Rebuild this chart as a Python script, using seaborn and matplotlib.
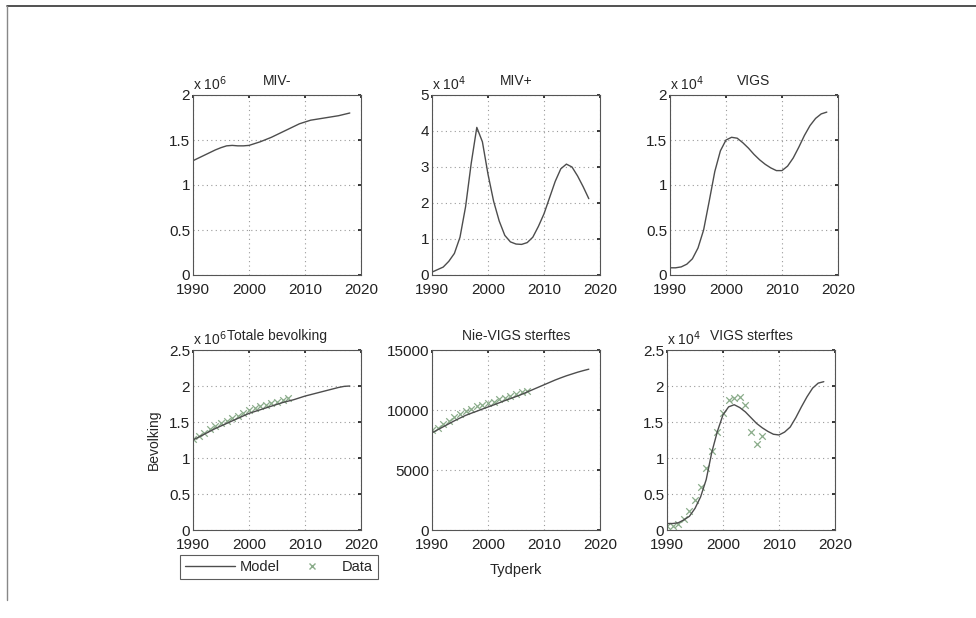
import numpy as np
import pandas as pd
import matplotlib
matplotlib.use('Agg')
import matplotlib.pyplot as plt
from matplotlib.lines import Line2D
import seaborn as sns

# model years and data years
jare = list(range(1990, 2019))
data_jare = list(range(1990, 2008))

# model output (in the units shown on each axis)
miv_neg = [1.27, 1.30, 1.33, 1.36, 1.39, 1.415, 1.435, 1.44, 1.435, 1.435,
           1.44, 1.46, 1.48, 1.505, 1.53, 1.56, 1.59, 1.62, 1.65, 1.68,
           1.70, 1.72, 1.73, 1.74, 1.75, 1.76, 1.77, 1.785, 1.80]          # x 10^6
miv_pos = [0.08, 0.15, 0.22, 0.38, 0.60, 1.05, 1.90, 3.10, 4.10, 3.70,
           2.80, 2.05, 1.50, 1.10, 0.92, 0.86, 0.85, 0.90, 1.05, 1.35,
           1.70, 2.15, 2.60, 2.95, 3.08, 3.00, 2.75, 2.45, 2.12]           # x 10^4
vigs = [0.08, 0.08, 0.09, 0.12, 0.18, 0.30, 0.50, 0.82, 1.15, 1.38,
        1.50, 1.53, 1.52, 1.47, 1.41, 1.34, 1.28, 1.23, 1.19, 1.16,
        1.16, 1.21, 1.30, 1.42, 1.55, 1.66, 1.74, 1.79, 1.81]               # x 10^4
totaal = [1.25, 1.29, 1.33, 1.37, 1.41, 1.445, 1.48, 1.515, 1.55, 1.585,
          1.62, 1.645, 1.67, 1.695, 1.72, 1.745, 1.77, 1.79, 1.81, 1.835,
          1.86, 1.88, 1.90, 1.92, 1.94, 1.96, 1.98, 1.995, 2.00]           # x 10^6
nie_vigs_sterf = [8100, 8350, 8600, 8850, 9100, 9330, 9550, 9730, 9900, 10080,
                  10250, 10420, 10600, 10780, 10950, 11120, 11300, 11500, 11700, 11900,
                  12100, 12300, 12500, 12680, 12850, 13000, 13150, 13280, 13400]
vigs_sterf = [0.09, 0.09, 0.10, 0.14, 0.19, 0.30, 0.46, 0.70, 1.08, 1.37,
              1.60, 1.71, 1.74, 1.70, 1.64, 1.56, 1.48, 1.42, 1.37, 1.33,
              1.32, 1.36, 1.43, 1.56, 1.71, 1.85, 1.97, 2.04, 2.06]        # x 10^4

# observed data
totaal_data = [1.27, 1.31, 1.35, 1.40, 1.44, 1.48, 1.52, 1.56, 1.59, 1.63,
               1.66, 1.69, 1.72, 1.74, 1.76, 1.78, 1.80, 1.83]
nie_vigs_data = [8300, 8500, 8800, 9100, 9400, 9700, 9900, 10100, 10300, 10400,
                 10600, 10700, 10900, 11000, 11200, 11300, 11500, 11600]
vigs_sterf_data = [0.05, 0.06, 0.08, 0.15, 0.27, 0.42, 0.60, 0.86, 1.10, 1.36,
                   1.62, 1.80, 1.84, 1.85, 1.74, 1.36, 1.19, 1.30]

sns.set_theme(style='white')
plt.rcParams['font.family'] = ['Liberation Sans', 'DejaVu Sans']

LINE = '#4d4d4d'
DOT = '#8aac8a'

fig = plt.figure(figsize=(9.76, 6.18), dpi=100)
fig.patch.set_facecolor('white')

# scanned page frame
fig.add_artist(Line2D([7/976, 1], [1-6/618, 1-6/618], color='#333', lw=1.2))
fig.add_artist(Line2D([7/976, 7/976], [1-6/618, 1-600/618], color='#888', lw=1.0))

pos = {
    (0, 0): [193, 95], (0, 1): [432, 95], (0, 2): [670, 95],
    (1, 0): [193, 350], (1, 1): [432, 350], (1, 2): [667, 350],
}
W, H = 168, 180


def make_ax(r, c):
    x0, y0 = pos[(r, c)]
    ax = fig.add_axes([x0/976, 1-(y0+H)/618, W/976, H/618])
    return ax


panels = [
    ((0, 0), 'MIV-', miv_neg, None, 2, [0, 0.5, 1, 1.5, 2], '6'),
    ((0, 1), 'MIV+', miv_pos, None, 5, [0, 1, 2, 3, 4, 5], '4'),
    ((0, 2), 'VIGS', vigs, None, 2, [0, 0.5, 1, 1.5, 2], '4'),
    ((1, 0), 'Totale bevolking', totaal, totaal_data, 2.5, [0, 0.5, 1, 1.5, 2, 2.5], '6'),
    ((1, 1), 'Nie-VIGS sterftes', nie_vigs_sterf, nie_vigs_data, 15000, [0, 5000, 10000, 15000], None),
    ((1, 2), 'VIGS sterftes', vigs_sterf, vigs_sterf_data, 2.5, [0, 0.5, 1, 1.5, 2, 2.5], '4'),
]

for (rc, title, model, data, ymax, yt, expo) in panels:
    ax = make_ax(*rc)
    dfm = pd.DataFrame({'jaar': jare, 'waarde': model})
    sns.lineplot(data=dfm, x='jaar', y='waarde', ax=ax, color=LINE, lw=1.0)
    if data is not None:
        dfd = pd.DataFrame({'jaar': data_jare, 'waarde': data})
        sns.scatterplot(data=dfd, x='jaar', y='waarde', ax=ax, marker='x',
                        color=DOT, s=22, linewidth=0.9, zorder=1)
    ax.set_xlim(1990, 2020)
    ax.set_ylim(0, ymax)
    ax.set_xticks([1990, 2000, 2010, 2020])
    ax.set_yticks(yt)
    ax.set_yticklabels([f'{v:g}' for v in yt])
    ax.set_xlabel('')
    ax.set_ylabel('')
    ax.grid(True, color='#9a9a9a', lw=0.8, linestyle=(0, (1, 3)))
    ax.tick_params(direction='in', length=2, labelsize=11, top=True,
                   right=True, colors='#222')
    ax.tick_params(axis='x', pad=6)
    ax.tick_params(axis='y', pad=2)
    for s in ax.spines.values():
        s.set_color('#555')
        s.set_linewidth(0.8)
    ax.set_title(title, fontsize=10, pad=7)
    if expo is not None:
        ax.text(0.0, 1.01, r'x 10$^{%s}$' % expo, transform=ax.transAxes,
                ha='left', va='bottom', fontsize=10)
    if rc == (1, 0):
        ax.set_ylabel('Bevolking', fontsize=10, labelpad=6)
    if rc == (1, 1):
        ax.set_xlabel('Tydperk', fontsize=10.5, labelpad=8)

handles = [Line2D([], [], color=LINE, lw=1.0),
           Line2D([], [], color=DOT, marker='x', lw=0, markersize=4)]
leg = fig.legend(handles, ['Model', 'Data'], loc='upper left', ncol=2,
                 bbox_to_anchor=(180/976, 1-555/618), frameon=True,
                 fancybox=False, edgecolor='#333', fontsize=10.5,
                 handlelength=3.4, columnspacing=0.5, handletextpad=0.35,
                 borderpad=0.35, borderaxespad=0)
leg.get_frame().set_linewidth(0.8)

fig.savefig('out.png', dpi=100, facecolor='white')
